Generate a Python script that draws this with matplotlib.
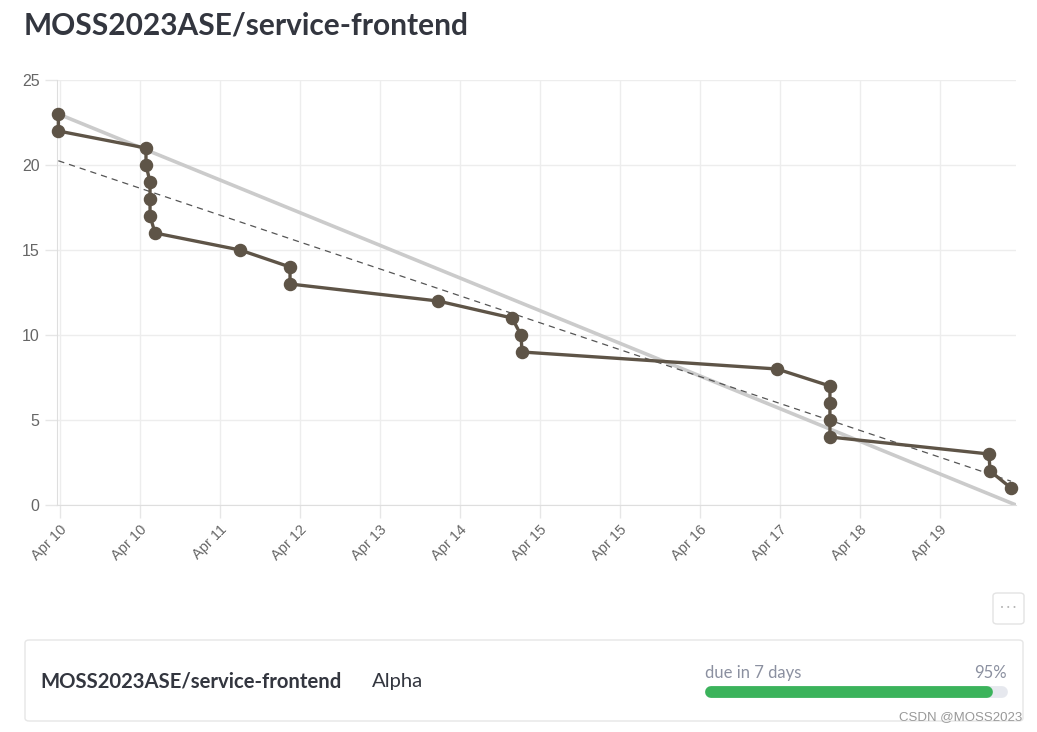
import numpy as np
import matplotlib
matplotlib.use("Agg")
import matplotlib.pyplot as plt
import matplotlib.dates as mdates
from matplotlib.patches import FancyBboxPatch
from datetime import datetime, timedelta

# burndown data
times = ["2023-04-10 00:20", "2023-04-10 00:20", "2023-04-10 22:16", "2023-04-10 22:16",
         "2023-04-10 23:17", "2023-04-10 23:17", "2023-04-10 23:17", "2023-04-11 00:32",
         "2023-04-11 21:48", "2023-04-12 10:19", "2023-04-12 10:19", "2023-04-13 23:21",
         "2023-04-14 17:53", "2023-04-14 20:07", "2023-04-14 20:23", "2023-04-17 12:12",
         "2023-04-18 01:26", "2023-04-18 01:26", "2023-04-18 01:26", "2023-04-18 01:26",
         "2023-04-19 17:14", "2023-04-19 17:30", "2023-04-19 22:45"]
remaining = [23, 22, 21, 20, 19, 18, 17, 16, 15, 14, 13, 12, 11, 10, 9, 8, 7, 6, 5, 4, 3, 2, 1]

ideal_times = ["2023-04-10 00:20", "2023-04-20 00:00"]
ideal_vals = [23, 0]
trend_vals = [20.25, 1.4]

title = "MOSS2023ASE/service-frontend"
milestone = "Alpha"
due_text = "due in 7 days"
progress = 95

W, H = 1037, 732
fig = plt.figure(figsize=(W / 100, H / 100), dpi=100)

def px(x, y):
    return x / W, 1 - y / H

t = [datetime.strptime(s, "%Y-%m-%d %H:%M") for s in times]
ti = [datetime.strptime(s, "%Y-%m-%d %H:%M") for s in ideal_times]
start = datetime(2023, 4, 10, 0, 0)
end = datetime(2023, 4, 20, 0, 0)

ax = fig.add_axes([57 / W, 1 - 505 / H, (1016 - 57) / W, (505 - 80) / H])
ax.plot(ti, ideal_vals, color="#cbcbcb", lw=2.6, zorder=2, solid_capstyle="butt")
ax.plot([t[0], t[-1]], trend_vals, color="#555555", lw=0.9, ls=(0, (5, 4)), zorder=3)
ax.plot(t, remaining, color="#5e5447", lw=2.4, marker="o", ms=8.7, zorder=4, clip_on=False)

ax.set_xlim(start, end)
ax.set_ylim(0, 25)
ticks = [start + timedelta(days=0.031 + i * 0.834) for i in range(12)]
ax.set_xticks(ticks)
ax.xaxis.set_major_formatter(mdates.DateFormatter("%b %d"))
ax.set_yticks([0, 5, 10, 15, 20, 25])
ax.grid(True, color="#ededed", lw=1)
for s in ["top", "right"]:
    ax.spines[s].set_visible(False)
for s in ["left", "bottom"]:
    ax.spines[s].set_color("#dedede")
ax.tick_params(axis="both", colors="#e6e6e6", length=9, width=1,
               labelcolor="#666666", labelsize=10.5)
ax.tick_params(axis="y", labelsize=11.5)
for lab in ax.get_xticklabels():
    lab.set_rotation(45)
    lab.set_ha("right")
    lab.set_rotation_mode("anchor")
    lab.set_family("Liberation Sans")
for lab in ax.get_yticklabels():
    lab.set_family("Liberation Sans")

fig.text(*px(24, 26), title, fontsize=21.5, fontweight="bold", color="#33363f",
         family="Lato", va="center", ha="left")

# "..." button
btn = FancyBboxPatch(px(993, 624), 31 / W, 31 / H, boxstyle="round,pad=0,rounding_size=0.004",
                     transform=fig.transFigure, fc="white", ec="#e3e3e3", lw=1)
fig.patches.append(btn)
fig.text(*px(1008, 608), "• • •", fontsize=5, color="#b5b5b5", ha="center", va="center")

# milestone card
card = FancyBboxPatch(px(25, 721), 998 / W, 81 / H, boxstyle="round,pad=0,rounding_size=0.004",
                      transform=fig.transFigure, fc="white", ec="#e6e6e6", lw=1)
fig.patches.append(card)
fig.text(*px(40, 682), title, fontsize=14.6, fontweight="bold", color="#33363f",
         family="Lato", va="center")
fig.text(*px(372, 682), milestone, fontsize=14.6, color="#33363f", family="Lato", va="center")
fig.text(*px(705, 673), due_text, fontsize=12, color="#8b90a0", family="Lato", va="center")
fig.text(*px(1007, 673), f"{progress}%", fontsize=12, color="#8b90a0", family="Lato",
         va="center", ha="right")

bar_ax = fig.add_axes([711 / W, 1 - 697 / H, (1002 - 711) / W, 11 / H])
bar_ax.set_zorder(5)
bar_ax.patch.set_alpha(0)
bar_ax.plot([0, 100], [0, 0], color="#e6e8ee", lw=8.5, solid_capstyle="round", clip_on=False)
bar_ax.plot([0, progress], [0, 0], color="#3bb35b", lw=8.5, solid_capstyle="round", clip_on=False)
bar_ax.set_xlim(0, 100)
bar_ax.set_ylim(-1, 1)
bar_ax.axis("off")

fig.text(*px(1022, 717), "CSDN @MOSS2023", fontsize=9.5, color="#999999",
         family="Liberation Sans", ha="right", va="center", zorder=6)

fig.savefig("out.png", dpi=100)
